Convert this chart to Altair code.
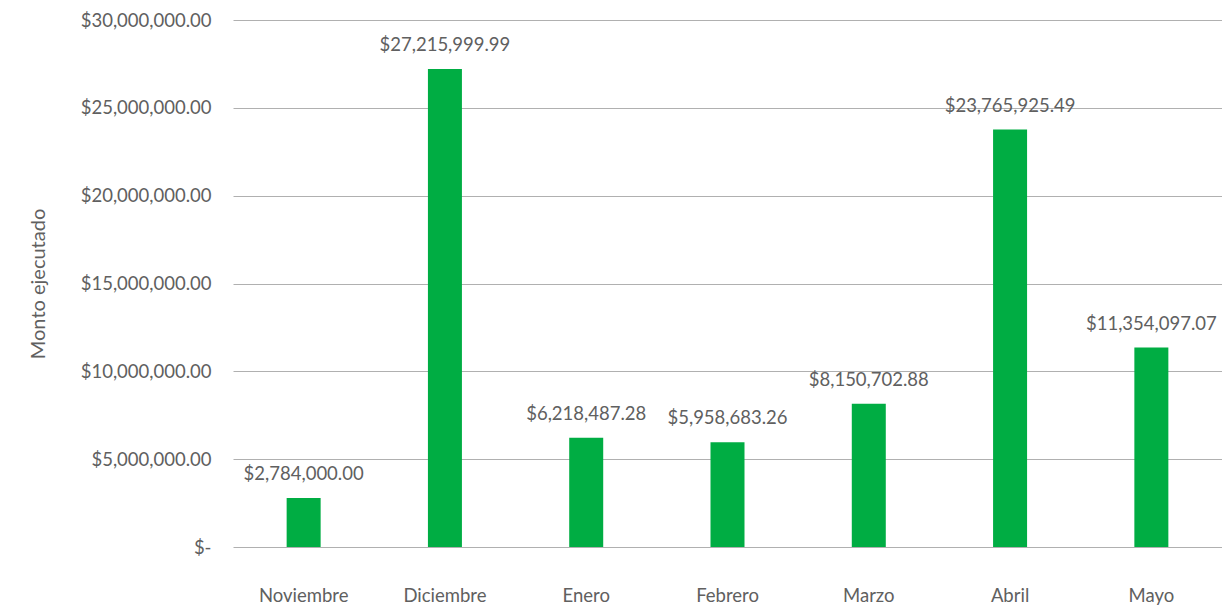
import altair as alt
import pandas as pd

meses = ["Noviembre", "Diciembre", "Enero", "Febrero", "Marzo", "Abril", "Mayo"]
montos = [2784000.00, 27215999.99, 6218487.28, 5958683.26, 8150702.88, 23765925.49, 11354097.07]
etiquetas = ["$2,784,000.00", "$27,215,999.99", "$6,218,487.28", "$5,958,683.26",
             "$8,150,702.88", "$23,765,925.49", "$11,354,097.07"]

df = pd.DataFrame({"mes": meses, "monto": montos, "etiqueta": etiquetas})

FONT = "Lato"
GRAY = "#606060"

x = alt.X("mes:N", sort=meses, title=None,
          scale=alt.Scale(paddingInner=0.0, paddingOuter=0.0),
          axis=alt.Axis(labelAngle=0, labelFont=FONT, labelFontSize=18.5, labelColor=GRAY,
                        labelPadding=39, ticks=False, domain=False, grid=False))
y = alt.Y("monto:Q", title="Monto ejecutado",
          scale=alt.Scale(domain=[0, 30000000], nice=False),
          axis=alt.Axis(values=[0, 5000000, 10000000, 15000000, 20000000, 25000000, 30000000],
                        labelExpr="datum.value == 0 ? '$-' : '$' + format(datum.value, ',.2f')",
                        labelFont=FONT, labelFontSize=18.5, labelColor=GRAY, labelPadding=22,
                        titleFont=FONT, titleFontSize=20, titleColor=GRAY, titleFontWeight="normal",
                        titlePadding=32, ticks=False, domain=False,
                        gridColor="#b0b0b0", gridWidth=1))

bars = alt.Chart(df).mark_bar(color="#00AD43", size=34).encode(x=x, y=y)
text = alt.Chart(df).mark_text(font=FONT, fontSize=18.5, color=GRAY, dy=-24, baseline="middle").encode(
    x=alt.X("mes:N", sort=meses), y=alt.Y("monto:Q"), text="etiqueta:N")

chart = (bars + text).properties(
    width=989, height=527,
    background="white",
    autosize=alt.AutoSizeParams(type="none"),
    padding={"left": 225, "top": 12, "right": 0, "bottom": 64},
).configure_view(stroke=None).configure_axis(domain=False)

chart.save("out.html", embed_options={"renderer": "svg", "actions": False})
